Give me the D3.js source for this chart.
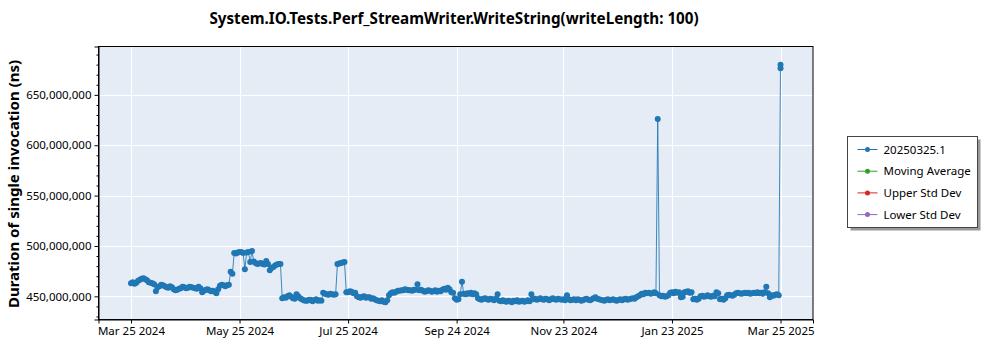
<!DOCTYPE html>
<html>
<head>
<meta charset="utf-8">
<script src="https://cdn.jsdelivr.net/npm/d3@7"></script>
<style>
  body { margin: 0; background: #fff; }
  text { font-family: "Noto Sans", "Open Sans", sans-serif; fill: #000; }
</style>
</head>
<body>
<svg id="chart" width="1000" height="350"></svg>
<script>
// ---- data -------------------------------------------------------------
const chartTitle = "System.IO.Tests.Perf_StreamWriter.WriteString(writeLength: 100)";
const yAxisTitle = "Duration of single invocation (ns)";

const legendNames = ["20250325.1", "Moving Average", "Upper Std Dev", "Lower Std Dev"];
const legendColors = ["#1f77b4", "#2ca02c", "#d62728", "#9467bd"];

// one run per day starting at firstRunDate, durations in millions of ns
const firstRunDate = "2024-03-25";
const runDurationsM = [
  463, 464, 462.5, 463.5, 465.5, 466.5, 467.5, 468, 467, 466,
  464, 463.5, 463, 462, 455, 459, 460, 461.5, 461, 460,
  459, 458.5, 460, 459, 457, 456, 456.5, 457.5, 458, 459.5,
  459, 458, 458.5, 459.5, 459, 458.5, 458, 457.5, 459.5, 458,
  454, 455.5, 456.5, 457, 456, 455, 455.5, 454.5, 453, 457,
  460.5, 461.5, 461, 460, 461, 461.5, 474.5, 472.5, 493, 492.5,
  493.5, 494, 494, 493, 477, 493.5, 494, 484, 495, 484.5,
  483, 482, 482.5, 483, 482, 481.5, 485, 482, 476, 478,
  479, 480.5, 481.5, 482, 482, 448, 449, 448.5, 450, 451,
  449.5, 448, 447.5, 452, 450, 448, 447, 446, 445.5, 445.5,
  446.5, 446.5, 445, 446, 447, 445.5, 446, 445.5, 453.5, 452.5,
  452, 451.5, 452.5, 452, 451.5, 452, 482, 482.5, 483, 483.5,
  484, 454, 454, 455, 454.5, 453, 453.5, 450, 449, 448.5,
  449.5, 450, 448.5, 449, 449, 447.5, 448, 447, 446, 445.5,
  445, 446, 444.5, 444, 446, 451, 453, 454, 453.5, 454.5,
  455.5, 455.5, 456, 456, 457, 456.5, 456, 456, 455.5, 456.5,
  456.5, 462, 456, 456.5, 455.5, 454.5, 455, 456, 455.5, 454.5,
  455, 456, 454.5, 455.5, 455, 456.5, 457.5, 456.5, 458.5, 457,
  454, 453.5, 448, 446.5, 447, 452, 464.5, 452.5, 452, 453,
  452.5, 453.5, 452, 453, 452, 448, 447, 446.5, 447.5, 448,
  447, 446.5, 447.5, 447, 446, 447.5, 452, 445.5, 445, 446,
  445, 444.5, 445.5, 445, 444, 445.5, 445, 446, 444.5, 445,
  445.5, 444.5, 445, 446, 445, 452, 447, 447.5, 446.5, 447,
  448, 447, 446.5, 447.5, 447, 446, 447, 448, 447, 446.5,
  447.5, 447, 446.5, 447, 446, 451, 447, 446, 446.5, 447,
  446, 447, 446.5, 445.5, 446, 447, 447.5, 446.5, 446, 447,
  448, 449, 447.5, 447, 446.5, 446, 445.5, 446.5, 447, 446,
  446.5, 447, 446, 445.5, 446.5, 447, 446, 447, 447.5, 446.5,
  447, 447.5, 448, 447.5, 449, 450, 451, 452.5, 452, 453.5,
  453, 453.5, 452.5, 453, 454, 453, 626, 451, 450, 450.5,
  449.5, 450, 451, 453.5, 454, 453, 454.5, 453.5, 454, 449,
  449.5, 454, 454.5, 455, 453.5, 454, 447, 447.5, 446.5, 447.5,
  450, 450.5, 449.5, 450, 451, 450, 449.5, 450.5, 450, 454,
  453, 447, 447.5, 446.5, 448, 451, 451.5, 451, 450.5, 451.5,
  453, 453.5, 453, 452.5, 453, 453.5, 453, 453.5, 452.5, 453,
  453.5, 453, 454, 453, 453.5, 452.5, 454, 459.5, 453, 449,
  451, 450.5, 451.5, 452, 451
];
// the two latest runs, both on the final date
const finalRunDate = "2025-03-25";
const finalRunDurationsM = [680, 676.5];

const xTickLabels = ["Mar 25 2024", "May 25 2024", "Jul 25 2024", "Sep 24 2024",
                     "Nov 23 2024", "Jan 23 2025", "Mar 25 2025"];
const yTickValues = [450e6, 500e6, 550e6, 600e6, 650e6];
const yDomain = [427e6, 698e6];

// ---- build points -------------------------------------------------------
const parseIso = d3.timeParse("%Y-%m-%d");
const start = parseIso(firstRunDate);
const points = runDurationsM.map((v, i) => ({
  date: d3.timeDay.offset(start, i),
  value: v * 1e6
}));
finalRunDurationsM.forEach(v => points.push({ date: parseIso(finalRunDate), value: v * 1e6 }));

// ---- layout ---------------------------------------------------------------
const svg = d3.select("#chart");
const plot = { left: 98.5, right: 813, top: 46.5, bottom: 319.5 };

const [dMin, dMax] = d3.extent(points, d => d.date);
const pad = (dMax - dMin) * 0.05;
const x = d3.scaleTime()
  .domain([new Date(+dMin - pad), new Date(+dMax + pad)])
  .range([plot.left, plot.right]);
const y = d3.scaleLinear().domain(yDomain).range([plot.bottom, plot.top]);

const parseTick = d3.timeParse("%b %d %Y");
const xTickDates = xTickLabels.map(parseTick);

// plot background
svg.append("rect")
  .attr("x", plot.left).attr("y", plot.top)
  .attr("width", plot.right - plot.left).attr("height", plot.bottom - plot.top)
  .attr("fill", "#e5ecf6");

// grid
const grid = svg.append("g").attr("stroke", "#fff").attr("stroke-width", 1);
grid.selectAll(".gx").data(xTickDates).join("line")
  .attr("x1", d => Math.round(x(d)) + 0.5).attr("x2", d => Math.round(x(d)) + 0.5)
  .attr("y1", plot.top).attr("y2", plot.bottom);
grid.selectAll(".gy").data(yTickValues).join("line")
  .attr("y1", d => Math.round(y(d)) + 0.5).attr("y2", d => Math.round(y(d)) + 0.5)
  .attr("x1", plot.left).attr("x2", plot.right);

// series
svg.append("clipPath").attr("id", "plotClip").append("rect")
  .attr("x", plot.left).attr("y", plot.top)
  .attr("width", plot.right - plot.left).attr("height", plot.bottom - plot.top);
const series = svg.append("g").attr("clip-path", "url(#plotClip)");
series.append("path")
  .datum(points)
  .attr("fill", "none")
  .attr("stroke", legendColors[0])
  .attr("stroke-width", 1)
  .attr("stroke-opacity", 0.85)
  .attr("d", d3.line().x(d => x(d.date)).y(d => y(d.value)));
series.selectAll("circle").data(points).join("circle")
  .attr("cx", d => x(d.date)).attr("cy", d => y(d.value))
  .attr("r", 3).attr("fill", legendColors[0]);

// frame
svg.append("rect")
  .attr("x", plot.left).attr("y", plot.top)
  .attr("width", plot.right - plot.left).attr("height", plot.bottom - plot.top)
  .attr("fill", "none").attr("stroke", "#000").attr("stroke-width", 1);

// axes
const yAxis = svg.append("g").attr("transform", `translate(${plot.left},0)`)
  .call(d3.axisLeft(y).tickValues(yTickValues).tickFormat(d3.format(",")).tickSize(4).tickPadding(3));
const minorY = d3.range(430e6, yDomain[1], 10e6).filter(v => v % 50e6 !== 0);
svg.append("g").attr("transform", `translate(${plot.left},0)`)
  .call(d3.axisLeft(y).tickValues(minorY).tickFormat("").tickSize(2))
  .select(".domain").remove();

const xAxis = svg.append("g").attr("transform", `translate(0,${plot.bottom})`)
  .call(d3.axisBottom(x).tickValues(xTickDates).tickFormat(d3.timeFormat("%b %d %Y")).tickSize(4).tickPadding(3));

[yAxis, xAxis].forEach(g => {
  g.select(".domain").attr("stroke", "#000");
  g.selectAll(".tick line").attr("stroke", "#000");
  g.selectAll(".tick text").style("font-family", '"Noto Sans", sans-serif').style("font-size", "11.5px").attr("fill", "#111");
});

// titles
svg.append("text")
  .attr("x", 454).attr("y", 24)
  .attr("text-anchor", "middle")
  .style("font-weight", "bold").style("font-size", "15.2px")
  .text(chartTitle);

svg.append("text")
  .attr("transform", "translate(19,184) rotate(-90)")
  .attr("text-anchor", "middle")
  .style("font-weight", "bold").style("font-size", "15px")
  .text(yAxisTitle);

// legend
const lg = svg.append("g").attr("transform", "translate(847.5,136.5)");
lg.append("rect").attr("x", 3).attr("y", 3).attr("width", 130).attr("height", 91).attr("fill", "#999");
lg.append("rect").attr("width", 130).attr("height", 91).attr("fill", "#fff").attr("stroke", "#444");
const items = lg.selectAll(".item").data(legendNames).join("g")
  .attr("transform", (d, i) => `translate(0,${13 + i * 21.7})`);
items.append("line").attr("x1", 10).attr("x2", 30).attr("y1", 0).attr("y2", 0)
  .attr("stroke", (d, i) => legendColors[i]).attr("stroke-width", 1);
items.append("circle").attr("cx", 20).attr("cy", 0).attr("r", 2.5)
  .attr("fill", (d, i) => legendColors[i]);
items.append("text").attr("x", 36).attr("y", 0).attr("dy", "0.35em")
  .style("font-size", "11.5px").attr("fill", "#111")
  .text(d => d);
</script>
</body>
</html>
